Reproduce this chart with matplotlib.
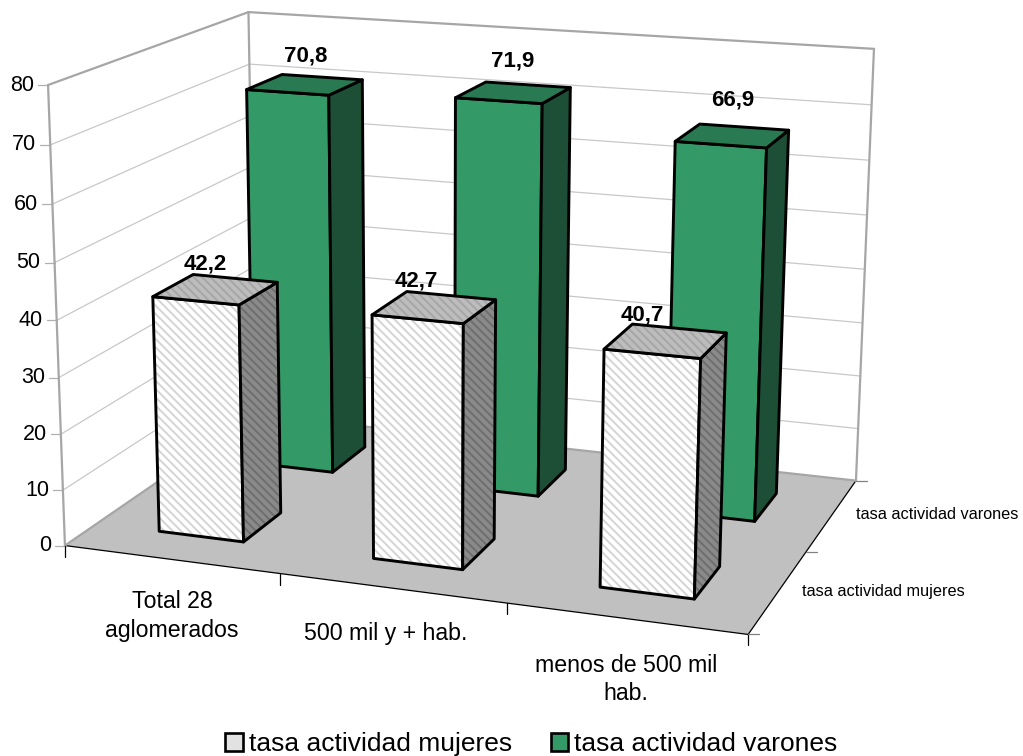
import matplotlib
matplotlib.use('Agg')
import matplotlib.pyplot as plt
from matplotlib.patches import Polygon, Patch
import numpy as np

plt.rcParams['font.family'] = ['Liberation Sans', 'DejaVu Sans']
plt.rcParams['hatch.linewidth'] = 1.4

# Datos
categorias = ['Total 28\naglomerados', '500 mil y + hab.', 'menos de 500 mil\nhab.']
series = ['tasa actividad mujeres', 'tasa actividad varones']
mujeres = [42.2, 42.7, 40.7]
varones = [70.8, 71.9, 66.9]
etiquetas_mujeres = ['42,2', '42,7', '40,7']
etiquetas_varones = ['70,8', '71,9', '66,9']
ticks_y = [0, 10, 20, 30, 40, 50, 60, 70, 80]

# Ajuste de las etiquetas respecto al centro de la tapa de cada barra (px)
ajuste_mujeres = [(-10, -25), (-18, -26), (-23, -26)]
ajuste_varones = [(1, -29), (-1, -32), (0, -36)]
ajuste_categorias = [(1, 0), (-6, 3), (0, 4)]

# Camara: esquinas de la caja 3D -> pixeles de la imagen
caja = [(0, 0, 0), (3, 0, 0), (3, 2, 0), (0, 2, 0), (0, 0, 80), (0, 2, 80), (3, 2, 80)]
pix = [(68, 545), (748, 635), (857, 480), (252, 415), (45, 85), (252, 12), (873, 49)]


def ajustar_camara():
    filas = []
    for (u, v, w), (x, y) in zip(caja, pix):
        p = [u, v, w / 80, 1]
        filas.append(p + [0, 0, 0, 0] + [-x * c for c in p])
        filas.append([0, 0, 0, 0] + p + [-y * c for c in p])
    _, _, vt = np.linalg.svd(np.array(filas, dtype=float))
    return vt[-1].reshape(3, 4)


P = ajustar_camara()


def proy(u, v, w=0):
    r = P @ np.array([u, v, w / 80, 1])
    return r[0] / r[2], r[1] / r[2]


fig = plt.figure(figsize=(10.23, 7.56), dpi=100)
ax = fig.add_axes([0, 0, 1, 1])
ax.set_xlim(0, 1023)
ax.set_ylim(756, 0)
ax.axis('off')

GRIS = '#a6a6a6'
z = [1]


def cara(puntos, color, rayas=None):
    z[0] += 1
    if rayas:
        ax.add_patch(Polygon(puntos, closed=True, facecolor=color, edgecolor=rayas,
                             hatch='\\' * 4, linewidth=0, zorder=z[0]))
    else:
        ax.add_patch(Polygon(puntos, closed=True, facecolor=color, edgecolor='none', zorder=z[0]))
    ax.add_patch(Polygon(puntos, closed=True, fill=False, edgecolor='black',
                         linewidth=2.1, joinstyle='round', zorder=z[0]))


def linea(a, b, color, lw, zorder=1):
    ax.plot([a[0], b[0]], [a[1], b[1]], color=color, lw=lw, zorder=zorder, solid_capstyle='round')


# Piso
ax.add_patch(Polygon([proy(0, 0), proy(3, 0), proy(3, 2), proy(0, 2)], closed=True,
                     facecolor='#c0c0c0', edgecolor='none', zorder=0.5))
linea(proy(0, 0), proy(3, 0), 'black', 0.9, 0.9)
linea(proy(3, 0), proy(3, 2), 'black', 0.9, 0.9)
linea(proy(0, 0), proy(0, 2), GRIS, 1.6, 0.9)
linea(proy(0, 2), proy(3, 2), GRIS, 1.6, 0.9)

# Lineas de division y escala
for t in ticks_y:
    if 0 < t < 80:
        linea(proy(0, 0, t), proy(0, 2, t), '#c8c8c8', 0.9)
        linea(proy(0, 2, t), proy(3, 2, t), '#c8c8c8', 0.9)
    x, y = proy(0, 0, t)
    linea((x - 10, y), (x, y), '#b0b0b0', 0.9)
    ax.text(x - 14, y, str(t), ha='right', va='center', fontsize=15.5, color='black')

linea(proy(0, 0), proy(0, 0, 80), GRIS, 1.6)
linea(proy(0, 2), proy(0, 2, 80), GRIS, 1.6)
linea(proy(3, 2), proy(3, 2, 80), GRIS, 1.6)
linea(proy(0, 0, 80), proy(0, 2, 80), GRIS, 1.6)
linea(proy(0, 2, 80), proy(3, 2, 80), GRIS, 1.6)

# Marcas de los ejes del piso
for i in range(4):
    x, y = proy(i, 0)
    linea((x, y), (x, y + 11), 'black', 0.9)
for i in range(3):
    x, y = proy(3, i)
    linea((x, y), (x + 11, y), '#808080', 0.9)

for i, nombre in enumerate(categorias):
    x, y = proy(i + 0.5, 0)
    dx, dy = ajuste_categorias[i]
    ax.text(x + dx, y + 31 + dy, nombre, ha='center', va='top', fontsize=16.7, linespacing=1.3)

for i, nombre in enumerate(series):
    x, y = proy(3, i + 0.5)
    ax.text(x + 24, y, nombre, ha='left', va='center', fontsize=11.7)


def barra(i, fila, valor, colores):
    frente, tapa, lado = colores
    u0, u1 = i + 0.3, i + 0.7
    v0, v1 = fila + 0.3, fila + 0.7
    cara([proy(u0, v0), proy(u1, v0), proy(u1, v0, valor), proy(u0, v0, valor)], *frente)
    cara([proy(u1, v0), proy(u1, v1), proy(u1, v1, valor), proy(u1, v0, valor)], *lado)
    cara([proy(u0, v0, valor), proy(u1, v0, valor), proy(u1, v1, valor), proy(u0, v1, valor)], *tapa)


VERDE = (('#339966', None), ('#297a52', None), ('#1c4f35', None))
BLANCO = (('#ffffff', '#d4d4d4'), ('#bdbdbd', '#a6a6a6'), ('#8a8a8a', '#6e6e6e'))

# Primero la fila de atras
for i, valor in enumerate(varones):
    barra(i, 1, valor, VERDE)
for i, valor in enumerate(varones):
    x, y = proy(i + 0.5, 1.5, valor)
    dx, dy = ajuste_varones[i]
    ax.text(x + dx, y + dy, etiquetas_varones[i], ha='center', va='center',
            fontsize=16, fontweight='bold', zorder=z[0] + 1)
z[0] += 2
for i, valor in enumerate(mujeres):
    x, y = proy(i + 0.5, 0.5, valor)
    dx, dy = ajuste_mujeres[i]
    ax.text(x + dx, y + dy, etiquetas_mujeres[i], ha='center', va='center',
            fontsize=16, fontweight='bold', zorder=z[0])
for i, valor in enumerate(mujeres):
    barra(i, 0, valor, BLANCO)

# Leyenda
handles = [Patch(facecolor='#e2e2e2', edgecolor='black', linewidth=1.9, label=series[0]),
           Patch(facecolor='#339966', edgecolor='black', linewidth=1.9, label=series[1])]
ax.legend(handles=handles, loc='center', bbox_to_anchor=(0.5195, 0.0155), ncol=2, frameon=False,
          fontsize=19, handlelength=0.66, handleheight=0.66, handletextpad=0.23,
          columnspacing=1.48, borderpad=0, borderaxespad=0)

fig.savefig('out.png', dpi=100)
